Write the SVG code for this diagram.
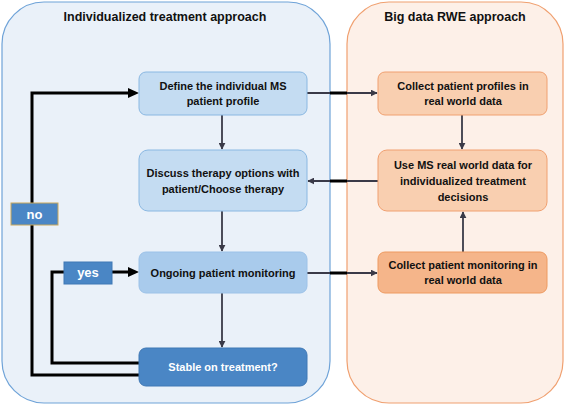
<svg xmlns="http://www.w3.org/2000/svg" width="567" height="407" viewBox="0 0 567 407">
<defs>
<marker id="ah" viewBox="0 0 10 10" refX="9" refY="5" markerWidth="7" markerHeight="7" orient="auto" markerUnits="userSpaceOnUse">
<path d="M0,0 L10,5 L0,10 z" fill="#3a3a48"/>
</marker>
<style>
text{font-family:"Liberation Sans",Arial,sans-serif;font-weight:bold;font-size:11px;fill:#111;text-anchor:middle}
.title{font-size:12.5px}
.wt{fill:#fff}
.lbl{font-size:13px;fill:#fff}
.bnode{fill:#c4dcf2;stroke:#8ab8e2;stroke-width:1}
.onode{fill:#f9cfb0;stroke:#f0a070;stroke-width:1}
.c{stroke:#3a3a48;stroke-width:1.8;fill:none;marker-end:url(#ah)}
.k{stroke:#000;stroke-width:3;fill:none}
</style>
</defs>
<g id="panel-left">
<rect x="2" y="2" width="328" height="401" rx="42" fill="#eaf1f9" stroke="#6fa3d8" stroke-width="1.2"/>
<text class="title" x="165" y="21">Individualized treatment approach</text>
</g>
<g id="panel-right">
<rect x="347" y="2" width="216" height="401" rx="42" fill="#fdf0e8" stroke="#f0a070" stroke-width="1.2"/>
<text class="title" x="455" y="21">Big data RWE approach</text>
</g>
<g id="connectors">
<line class="c" x1="307" y1="93" x2="377" y2="93"/>
<line x1="330" y1="93" x2="347" y2="93" stroke="#000" stroke-width="3"/>
<line class="c" x1="222" y1="115" x2="222" y2="149"/>
<line class="c" x1="462" y1="115" x2="462" y2="149"/>
<line class="c" x1="378" y1="181" x2="308" y2="181"/>
<line x1="330" y1="181" x2="347" y2="181" stroke="#000" stroke-width="3"/>
<line class="c" x1="222" y1="211" x2="222" y2="251"/>
<line class="c" x1="307" y1="273" x2="377" y2="273"/>
<line x1="330" y1="273" x2="347" y2="273" stroke="#000" stroke-width="3"/>
<line class="c" x1="463" y1="252" x2="463" y2="212"/>
<line class="c" x1="222" y1="293" x2="222" y2="347"/>
<path class="k" d="M139,375 H32 V93 H128"/>
<path d="M128,88 L139,93 L128,98 z" fill="#000"/>
<path class="k" d="M139,363 H52 V272 H128"/>
<path d="M128,267 L139,272 L128,277 z" fill="#000"/>
</g>
<g id="n-define">
<rect class="bnode" x="139" y="72" width="168" height="43" rx="7"/>
<text x="223" y="90">Define the individual MS</text>
<text x="223" y="105">patient profile</text>
</g>
<g id="n-discuss">
<rect class="bnode" x="139" y="150" width="168" height="61" rx="9"/>
<text x="223" y="177">Discuss therapy options with</text>
<text x="223" y="193">patient/Choose therapy</text>
</g>
<g id="n-ongoing">
<rect x="139" y="252" width="168" height="41" rx="7" fill="#a9cbec" stroke="#9cc2e8"/>
<text x="223" y="277">Ongoing patient monitoring</text>
</g>
<g id="n-stable">
<rect x="139" y="348" width="168" height="38" rx="7" fill="#4a86c5" stroke="#3f78b5"/>
<text class="wt" x="223" y="371">Stable on treatment?</text>
</g>
<g id="n-collect-profiles">
<rect class="onode" x="378" y="72" width="169" height="43" rx="7"/>
<text x="463" y="90">Collect patient profiles in</text>
<text x="463" y="105">real world data</text>
</g>
<g id="n-use">
<rect class="onode" x="378" y="150" width="169" height="61" rx="9"/>
<text x="463" y="169">Use MS real world data for</text>
<text x="463" y="185">individualized treatment</text>
<text x="463" y="201">decisions</text>
</g>
<g id="n-collect-monitoring">
<rect x="378" y="252" width="169" height="41" rx="7" fill="#f5b58a" stroke="#ee9a60"/>
<text x="463" y="269">Collect patient monitoring in</text>
<text x="463" y="284">real world data</text>
</g>
<g id="lbl-no">
<rect x="11" y="203" width="47" height="22" fill="#4a86c5" stroke="#c9a85a" stroke-width="1"/>
<text class="lbl" x="34.5" y="219">no</text>
</g>
<g id="lbl-yes">
<rect x="64" y="262" width="48" height="22" fill="#4a86c5" stroke="#3f78b5" stroke-width="1"/>
<text class="lbl" x="88" y="277">yes</text>
</g>
</svg>
